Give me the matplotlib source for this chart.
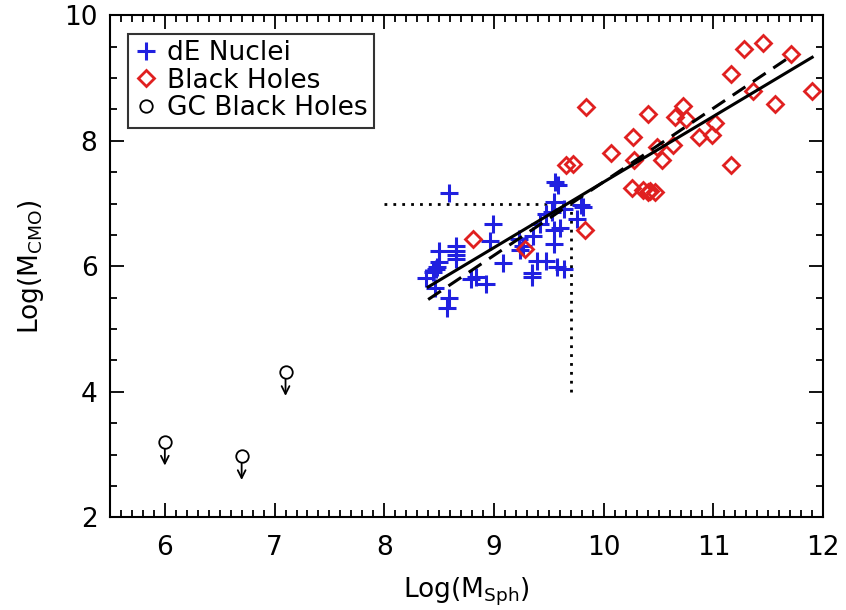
import numpy as np
import matplotlib
matplotlib.use('Agg')
from matplotlib import pyplot as plt
from matplotlib.ticker import MultipleLocator

plt.rcParams['font.family'] = ['DejaVu Sans']
plt.rcParams['mathtext.default'] = 'regular'

# dE nuclei (blue crosses)
de_x = [8.59, 9.56, 9.58, 9.55, 9.47, 9.53, 9.64, 9.79, 9.76, 9.60, 9.55, 9.55,
        9.42, 9.36, 9.23, 9.24, 8.99, 8.96, 9.08, 9.39, 9.47, 9.57, 9.64, 9.35,
        9.35, 8.79, 8.84, 8.93, 8.65, 8.65, 8.65, 8.65, 8.50, 8.50, 8.47, 8.44,
        8.38, 8.46, 8.59, 8.57, 9.81, 9.26, 8.48]
de_y = [7.17, 7.34, 7.29, 7.02, 6.84, 6.87, 6.92, 6.97, 6.75, 6.61, 6.57, 6.36,
        6.67, 6.48, 6.44, 6.26, 6.68, 6.40, 6.05, 6.09, 6.08, 5.99, 5.95, 5.89,
        5.83, 5.79, 5.83, 5.71, 6.33, 6.25, 6.18, 6.11, 6.25, 6.07, 5.96, 5.91,
        5.81, 5.66, 5.50, 5.33, 6.95, 6.33, 5.99]

# black holes (red diamonds)
bh_x = [8.81, 9.28, 9.66, 9.72, 9.83, 9.84, 10.07, 10.27, 10.28, 10.26, 10.36,
        10.40, 10.42, 10.47, 10.40, 10.49, 10.53, 10.63, 10.65, 10.72, 10.75,
        10.87, 10.99, 11.01, 11.16, 11.16, 11.28, 11.36, 11.45, 11.56, 11.71, 11.90]
bh_y = [6.43, 6.28, 7.61, 7.63, 6.57, 8.53, 7.80, 8.06, 7.70, 7.24, 7.22,
        7.18, 7.20, 7.18, 8.43, 7.90, 7.70, 7.93, 8.38, 8.55, 8.34,
        8.06, 8.09, 8.28, 9.07, 7.62, 9.47, 8.79, 9.56, 8.58, 9.39, 8.79]

# GC black holes (upper limits)
gc_x = [6.0, 6.7, 7.1]
gc_y = [3.20, 2.97, 4.31]

# fits
fit_solid_x = [8.40, 11.90]
fit_solid_y = [5.67, 9.33]
fit_dash_x = [8.40, 11.70]
fit_dash_y = [5.47, 9.34]

# dotted guide lines
hline_x = [8.0, 9.7]
hline_y = [7.0, 7.0]
vline_x = [9.7, 9.7]
vline_y = [4.0, 7.0]

fig = plt.figure(figsize=(8.46, 6.10), dpi=100)
ax = fig.add_axes([0.130, 0.152, 0.843, 0.823])

ax.plot(hline_x, hline_y, color='black', lw=2, linestyle=(0, (1, 2.2)))
ax.plot(vline_x, vline_y, color='black', lw=2, linestyle=(0, (1, 2.2)))

ax.plot(de_x, de_y, linestyle='none', marker='+', ms=13, mew=2.2,
        color='#2020e0', label='dE Nuclei')
ax.plot(bh_x, bh_y, linestyle='none', marker='D', ms=8, mew=2,
        mfc='none', mec='#e02020', label='Black Holes')
ax.plot(gc_x, gc_y, linestyle='none', marker='o', ms=9, mew=1.3,
        mfc='none', mec='black', label='GC Black Holes')
for x, y in zip(gc_x, gc_y):
    ax.annotate('', xy=(x, y - 0.42), xytext=(x, y - 0.07),
                arrowprops=dict(arrowstyle='->', lw=1.3, color='black',
                                mutation_scale=14))

ax.plot(fit_solid_x, fit_solid_y, color='black', lw=2.2)
ax.plot(fit_dash_x, fit_dash_y, color='black', lw=2.2, dashes=(5, 3))

ax.set_xlim(5.5, 12)
ax.set_ylim(2, 10)
ax.xaxis.set_major_locator(MultipleLocator(1))
ax.xaxis.set_minor_locator(MultipleLocator(0.1))
ax.yaxis.set_major_locator(MultipleLocator(2))
ax.yaxis.set_minor_locator(MultipleLocator(0.5))
ax.tick_params(which='both', direction='in', top=True, right=True,
               labelsize=19, width=1.3)
ax.tick_params(which='major', length=10)
ax.tick_params(which='minor', length=5)
ax.tick_params(axis='x', pad=13)
ax.tick_params(axis='y', pad=9)
for s in ax.spines.values():
    s.set_linewidth(1.5)

ax.set_xlabel(r'Log(M$_{Sph}$)', fontsize=19, labelpad=10)
ax.set_ylabel(r'Log(M$_{CMO}$)', fontsize=19, labelpad=13)

leg = ax.legend(loc='upper left', fontsize=19, frameon=True, fancybox=False,
                edgecolor='black', handlelength=0.8, handletextpad=0.4,
                borderpad=0.25, labelspacing=0.05, borderaxespad=0.7)
leg.get_frame().set_linewidth(1.5)

fig.savefig('out.png', dpi=100)
